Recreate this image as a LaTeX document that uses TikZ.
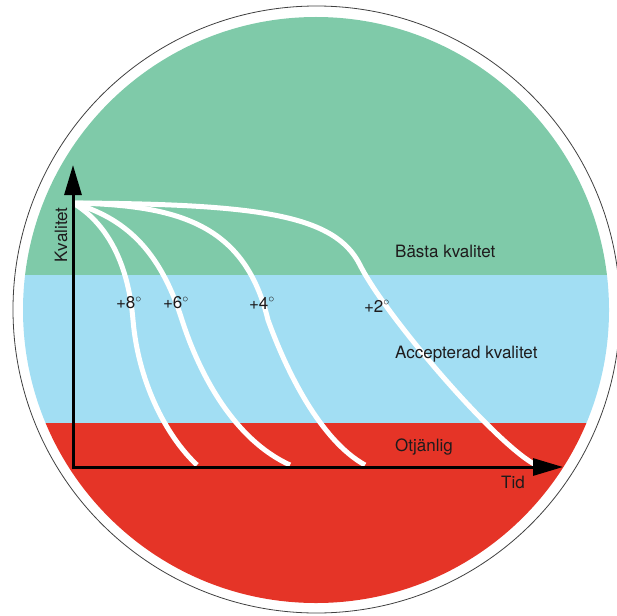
\documentclass[tikz,border=0pt]{standalone}
\usepackage{fontspec}
\setmainfont{TeX Gyre Heros}
\usetikzlibrary{arrows.meta}
\definecolor{bestgreen}{RGB}{127,202,169}
\definecolor{okblue}{RGB}{162,222,243}
\definecolor{badred}{RGB}{229,52,39}
\definecolor{inkgray}{RGB}{30,27,28}
\tikzset{
  zonetext/.style={text=inkgray,font=\fontsize{17}{20}\selectfont,inner sep=0pt},
  tempcurve/.style={white,line width=5pt},
  axisline/.style={line width=3pt,-{Triangle[length=30pt,width=17pt]}}
}

\begin{document}
\begin{tikzpicture}[x=1pt,y=-1pt]
          \useasboundingbox (0,0) rectangle (617,615);
          % zones
          \begin{scope}
            \clip (316,310) circle (293pt);
            \fill[bestgreen] (0,0) rectangle (617,275);
            \fill[okblue] (0,275) rectangle (617,423);
            \fill[badred] (0,423) rectangle (617,615);
          \end{scope}
          \draw[black!75,line width=0.8pt] (316.5,309.5) circle (303.5pt);
          % axes
          \coordinate (origin) at (73,467);
          \coordinate (ytip) at (73,165);
          \coordinate (xtip) at (563,467);
          \coordinate (start) at (73,203);
          \coordinate (end8) at (197,465);
          \coordinate (end6) at (290,465);
          \coordinate (end4) at (365,465);
          \coordinate (end2) at (534,464);
          % curves
          \draw[tempcurve] (start) .. controls (105,222) and (128,260) .. (133,320)
                .. controls (138,380) and (165,435) .. (end8);
          \draw[tempcurve] (start) .. controls (125,218) and (160,250) .. (182,320)
                .. controls (200,376) and (235,440) .. (end6);
          \draw[tempcurve] (start) .. controls (180,205) and (245,225) .. (268,320)
                .. controls (286,370) and (320,440) .. (end4);
          \draw[tempcurve] (start) .. controls (260,204) and (335,215) .. (360,265)
                .. controls (385,315) and (492,440) .. (end2);
          \draw[axisline] (73,469) -- (ytip);
          \draw[axisline] (origin) -- (xtip);
          % labels
          \node[zonetext] (t8) at (129,303) {+8$^\circ$};
          \node[zonetext] (t6) at (176,303) {+6$^\circ$};
          \node[zonetext] (t4) at (262,303) {+4$^\circ$};
          \node[zonetext] (t2) at (377,306) {+2$^\circ$};
          \node[zonetext,anchor=west] (best) at (395,251) {Bästa kvalitet};
          \node[zonetext,anchor=west] (accepted) at (395,354) {Accepterad kvalitet};
          \node[zonetext,anchor=west] (unfit) at (395,447) {Otjänlig};
          \node[zonetext,anchor=west] (time) at (501,482) {Tid};
          \node[zonetext,rotate=90] (quality) at (61,235) {Kvalitet};
        \end{tikzpicture}
\end{document}
